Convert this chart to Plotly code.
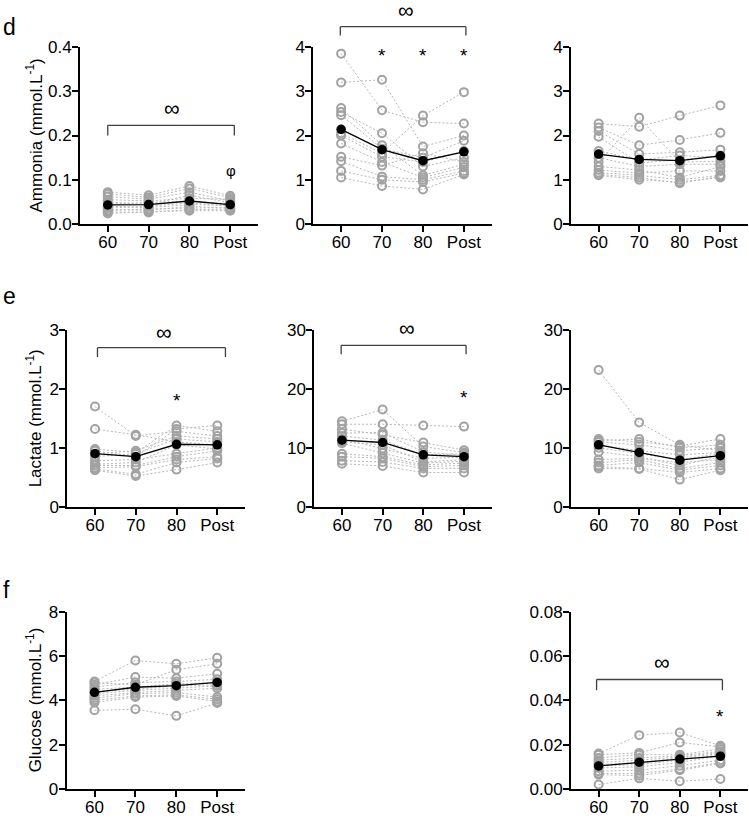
import plotly.graph_objects as go

W, H = 749, 819
timepoints = ["60", "70", "80", "Post"]
xidx = [0, 1, 2, 3]

# ---------- data: one row per participant, columns = 60, 70, 80, Post ----------
ammonia_1 = [
    [0.072, 0.065, 0.086, 0.064], [0.068, 0.060, 0.080, 0.060], [0.062, 0.056, 0.072, 0.052],
    [0.055, 0.052, 0.058, 0.056], [0.050, 0.044, 0.065, 0.048], [0.045, 0.048, 0.052, 0.045],
    [0.040, 0.037, 0.044, 0.042], [0.036, 0.040, 0.048, 0.040], [0.033, 0.031, 0.040, 0.035],
    [0.030, 0.034, 0.036, 0.037], [0.027, 0.026, 0.033, 0.032], [0.024, 0.028, 0.030, 0.030],
]
ammonia_1_mean = [0.043, 0.044, 0.052, 0.044]

ammonia_2 = [
    [3.85, 2.57, 2.30, 2.27], [3.20, 3.26, 1.75, 2.00], [2.62, 1.78, 1.10, 1.35],
    [2.53, 2.05, 1.30, 1.50], [2.46, 1.70, 1.50, 1.88], [2.05, 1.60, 2.45, 2.98],
    [2.00, 1.52, 1.40, 1.65], [1.82, 1.40, 1.05, 1.28], [1.52, 1.32, 1.60, 1.40],
    [1.42, 1.07, 1.00, 1.20], [1.20, 1.00, 0.95, 1.15], [1.05, 0.86, 0.78, 1.12],
]
ammonia_2_mean = [2.14, 1.68, 1.43, 1.63]

ammonia_3 = [
    [2.27, 2.20, 2.45, 2.68], [2.18, 1.78, 1.90, 2.06], [2.10, 1.58, 1.62, 1.68],
    [1.97, 1.38, 1.45, 1.55], [1.65, 1.45, 1.55, 1.50], [1.40, 2.40, 1.40, 1.42],
    [1.50, 1.30, 1.35, 1.35], [1.30, 1.22, 1.05, 1.30], [1.22, 1.15, 1.20, 1.20],
    [1.16, 1.10, 1.00, 1.10], [1.12, 1.05, 0.92, 1.08], [1.10, 1.00, 0.95, 1.05],
]
ammonia_3_mean = [1.58, 1.46, 1.43, 1.54]

lactate_1 = [
    [1.70, 1.20, 1.28, 1.20], [1.32, 1.22, 1.10, 1.05], [0.98, 0.92, 1.38, 1.28],
    [0.95, 0.85, 1.32, 1.38], [0.90, 0.95, 1.20, 1.15], [0.85, 0.90, 1.15, 1.10],
    [0.78, 0.80, 0.90, 1.00], [0.72, 0.75, 1.05, 0.98], [0.70, 0.70, 0.85, 0.95],
    [0.66, 0.68, 0.80, 0.85], [0.64, 0.55, 0.75, 0.82], [0.62, 0.52, 0.63, 0.75],
]
lactate_1_mean = [0.90, 0.85, 1.06, 1.05]

lactate_2 = [
    [14.5, 16.5, 10.2, 9.2], [14.0, 14.0, 13.8, 13.6], [13.2, 12.2, 10.9, 9.6],
    [12.5, 12.6, 9.3, 8.7], [12.0, 11.3, 8.8, 9.0], [11.5, 9.9, 8.2, 8.4],
    [11.0, 10.5, 7.6, 8.0], [10.8, 9.1, 7.4, 7.7], [9.0, 8.5, 7.1, 7.4],
    [8.5, 8.2, 6.8, 7.0], [7.8, 7.6, 6.5, 6.5], [7.3, 6.9, 5.8, 5.8],
]
lactate_2_mean = [11.3, 10.9, 8.8, 8.5]

lactate_3 = [
    [23.2, 14.3, 10.5, 9.5], [11.5, 11.0, 10.3, 11.5], [11.2, 11.5, 10.0, 10.5],
    [11.0, 10.5, 9.5, 10.0], [10.5, 9.5, 8.8, 9.2], [10.0, 9.0, 8.0, 9.0],
    [9.3, 8.5, 7.0, 8.5], [8.0, 8.2, 7.5, 8.0], [7.5, 8.0, 6.5, 7.5],
    [7.0, 7.5, 6.2, 7.0], [6.8, 6.5, 5.8, 6.5], [6.5, 6.4, 4.6, 6.2],
]
lactate_3_mean = [10.5, 9.2, 7.9, 8.66]

glucose_1 = [
    [4.85, 5.80, 5.65, 5.92], [4.80, 4.70, 5.38, 5.65], [4.70, 5.05, 5.00, 5.20],
    [4.60, 4.80, 4.85, 4.95], [4.50, 4.60, 4.75, 4.80], [4.40, 4.50, 4.65, 4.70],
    [4.30, 4.45, 4.55, 4.65], [4.20, 4.35, 4.45, 4.55], [4.10, 4.30, 4.35, 4.15],
    [4.00, 4.20, 4.25, 4.05], [3.90, 4.15, 4.20, 3.95], [3.55, 3.60, 3.30, 3.88],
]
glucose_1_mean = [4.36, 4.59, 4.66, 4.81]

glucose_3 = [
    [0.0160, 0.0243, 0.0255, 0.0195], [0.0155, 0.0163, 0.0210, 0.0190],
    [0.0140, 0.0155, 0.0155, 0.0180], [0.0130, 0.0140, 0.0150, 0.0170],
    [0.0120, 0.0130, 0.0145, 0.0165], [0.0110, 0.0120, 0.0140, 0.0160],
    [0.0105, 0.0110, 0.0130, 0.0155], [0.0095, 0.0100, 0.0120, 0.0150],
    [0.0080, 0.0085, 0.0105, 0.0130], [0.0070, 0.0070, 0.0090, 0.0120],
    [0.0065, 0.0060, 0.0085, 0.0115], [0.0020, 0.0048, 0.0035, 0.0045],
]
glucose_3_mean = [0.0104, 0.0121, 0.0135, 0.0148]

# ---------- panel layout (pixel boxes of plot areas) ----------
FONT = "Arial, Liberation Sans, sans-serif"
GREY = "#a2a2a2"
DOT = "#b8b8b8"

panels = [
    dict(data=ammonia_1, mean=ammonia_1_mean, ymax=0.4, dtick=0.1, fmt=".1f",
         px=(80, 258), py=(47, 224), title="Ammonia (mmol.L<sup>-1</sup>)"),
    dict(data=ammonia_2, mean=ammonia_2_mean, ymax=4, dtick=1, fmt="d",
         px=(313.3, 491.7), py=(47, 224)),
    dict(data=ammonia_3, mean=ammonia_3_mean, ymax=4, dtick=1, fmt="d",
         px=(571, 748), py=(47, 224)),
    dict(data=lactate_1, mean=lactate_1_mean, ymax=3, dtick=1, fmt="d",
         px=(67.3, 245), py=(330, 506.7), title="Lactate (mmol.L<sup>-1</sup>)"),
    dict(data=lactate_2, mean=lactate_2_mean, ymax=30, dtick=10, fmt="d",
         px=(314.3, 491.7), py=(330, 506.7)),
    dict(data=lactate_3, mean=lactate_3_mean, ymax=30, dtick=10, fmt="d",
         px=(571, 748), py=(330, 506.7)),
    dict(data=glucose_1, mean=glucose_1_mean, ymax=8, dtick=2, fmt="d",
         px=(66.7, 245), py=(611.7, 789), title="Glucose (mmol.L<sup>-1</sup>)"),
    dict(data=glucose_3, mean=glucose_3_mean, ymax=0.08, dtick=0.02, fmt=".2f",
         px=(571, 748), py=(611.7, 789)),
]

fig = go.Figure()
layout = dict(
    width=W, height=H, margin=dict(l=0, r=0, t=0, b=0, pad=0, autoexpand=False),
    paper_bgcolor="white", plot_bgcolor="white", showlegend=False,
    font=dict(family=FONT, size=17, color="black"),
)
annotations = []
shapes = []

for i, p in enumerate(panels):
    n = "" if i == 0 else str(i + 1)
    xa, ya = "x" + n, "y" + n
    for row in p["data"]:
        fig.add_trace(go.Scatter(
            x=xidx, y=row, mode="lines+markers", xaxis=xa, yaxis=ya,
            line=dict(color=DOT, width=1, dash="2px,2px"),
            marker=dict(symbol="circle-open", size=8, color=GREY,
                        line=dict(width=2, color=GREY)),
            cliponaxis=False, hoverinfo="skip"))
    fig.add_trace(go.Scatter(
        x=xidx, y=p["mean"], mode="lines+markers", xaxis=xa, yaxis=ya,
        line=dict(color="black", width=1.3),
        marker=dict(symbol="circle", size=9.5, color="black"),
        cliponaxis=False, hoverinfo="skip"))
    common = dict(showline=True, linecolor="black", linewidth=2, ticks="outside",
                  ticklen=6, tickwidth=2, tickcolor="black", showgrid=False,
                  zeroline=False, automargin=False,
                  tickfont=dict(size=17, family=FONT, color="black"))
    layout["xaxis" + n] = dict(
        domain=[p["px"][0] / W, p["px"][1] / W], anchor=ya, ticklabelstandoff=-4,
        range=[-0.68, 3.68], tickvals=xidx, ticktext=timepoints, **common)
    layout["yaxis" + n] = dict(
        domain=[1 - p["py"][1] / H, 1 - p["py"][0] / H], anchor=xa, ticklabelstandoff=-3,
        range=[0, p["ymax"]], dtick=p["dtick"], tick0=0, tickformat=p["fmt"], **common)
    if "title" in p:
        annotations.append(dict(
            text=p["title"], textangle=-90, xref="paper", x=34 / W, xanchor="center",
            yref=ya + " domain", y=0.5, yanchor="middle", showarrow=False,
            font=dict(size=17, family=FONT, color="black")))

# ---------- significance brackets and symbols ----------
# (panel index, x0, x1, y bar, y tick end, yref mode)
brackets = [
    (0, 0.0, 3.1, 0.223, 0.200, "data"),
    (1, -0.02, 3.05, 4.46 / 4, 4.26 / 4, "domain"),
    (3, 0.06, 3.2, 2.70, 2.54, "data"),
    (4, -0.02, 3.05, 27.4, 25.9, "data"),
    (7, -0.05, 3.05, 0.0494, 0.0446, "data"),
]
for (pi, x0, x1, yb, ye, mode) in brackets:
    n = "" if pi == 0 else str(pi + 1)
    yref = ("y" + n) if mode == "data" else ("y" + n + " domain")
    for seg in [(x0, ye, x0, yb), (x0, yb, x1, yb), (x1, yb, x1, ye)]:
        shapes.append(dict(type="line", xref="x" + n, yref=yref,
                           x0=seg[0], y0=seg[1], x1=seg[2], y1=seg[3],
                           line=dict(color="#404040", width=1.3)))

# (panel index, x, y, text, yref mode)
symbols = [
    (0, 1.58, 0.262, "∞", "data"), (0, 3.02, 0.122, "φ", "data"),
    (1, 1.58, 4.83 / 4, "∞", "domain"),
    (1, 1, 3.80, "*", "data"), (1, 2, 3.80, "*", "data"), (1, 3, 3.80, "*", "data"),
    (3, 1.69, 2.97, "∞", "data"), (3, 2, 1.80, "*", "data"),
    (4, 1.6, 30.3 / 30, "∞", "domain"), (4, 3, 18.5, "*", "data"),
    (7, 1.56, 0.0575, "∞", "data"), (7, 3, 0.0325, "*", "data"),
]
SYM_SIZE = {"∞": 22, "*": 19, "φ": 15}
for (pi, x, y, t, mode) in symbols:
    n = "" if pi == 0 else str(pi + 1)
    yref = ("y" + n) if mode == "data" else ("y" + n + " domain")
    ann = dict(text=t, xref="x" + n, yref=yref, x=x, y=y,
               showarrow=False, xanchor="center", yanchor="middle",
               font=dict(size=SYM_SIZE[t], family=FONT, color="black"))
    if t == "∞":
        ann["height"] = 18
        ann["borderpad"] = 0
    annotations.append(ann)

# ---------- panel letters ----------
for letter, ypx in [("d", 27), ("e", 296), ("f", 590)]:
    annotations.append(dict(text=letter, xref="paper", yref="paper", x=1 / W,
                            y=1 - ypx / H, xanchor="left", yanchor="middle",
                            showarrow=False, font=dict(size=23, family=FONT, color="black")))

layout["annotations"] = annotations
layout["shapes"] = shapes
fig.update_layout(**layout)
fig.write_html("out.html", config={"displayModeBar": False},
               post_script="document.body.style.margin='0';document.body.style.overflow='hidden';")
